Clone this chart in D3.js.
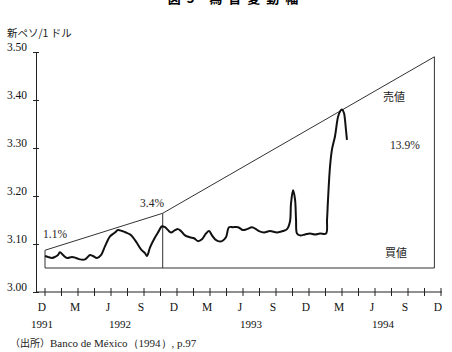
<!DOCTYPE html>
<html><head><meta charset="utf-8">
<script src="https://cdn.jsdelivr.net/npm/d3@7/dist/d3.min.js"></script>
<style>body{margin:0;background:#fff}svg{display:block}</style>
</head><body><svg id="c" width="452" height="352"></svg>
<script>
// month index: 0 = Dec 1991, 36 = Dec 1994
const tickMonths = d3.range(0, 36.01, 1.5);
const tickLabels = ["D","M","J","S","D","M","J","S","D","M","J","S","D"];
const yearLabels = ["1991","1992","1993","1994"];
const yearMonths = [0, 7.1, 19, 31];
const yTicks = [3.00, 3.10, 3.20, 3.30, 3.40, 3.50];

// spot rate (新ペソ/1ドル)
const rateMonths = [0,0.27,0.64,0.91,1.18,1.36,1.64,2.0,2.45,2.82,3.18,3.64,4.09,4.36,4.73,5.09,5.45,5.91,6.36,6.64,7.0,7.36,7.73,8.0,8.36,8.73,9.09,9.27,9.55,9.91,10.27,10.64,10.91,11.18,11.45,11.82,12.09,12.36,12.73,13.18,13.55,13.91,14.27,14.64,14.91,15.18,15.45,15.73,16.09,16.45,16.73,17.09,17.55,18.0,18.36,18.82,19.18,19.45,19.91,20.45,21.09,21.64,22.0,22.27,22.36,22.55,22.73,22.82,22.91,23.18,23.64,24.09,24.55,25.0,25.55,25.64,25.73,25.91,26.09,26.36,26.64,26.82,27.0,27.18,27.27,27.36,27.45];
const rateValues = [3.075,3.073,3.071,3.073,3.077,3.083,3.077,3.071,3.073,3.071,3.068,3.068,3.077,3.075,3.071,3.077,3.095,3.116,3.124,3.129,3.127,3.124,3.120,3.114,3.102,3.089,3.081,3.075,3.093,3.110,3.124,3.137,3.135,3.129,3.124,3.129,3.131,3.127,3.118,3.114,3.112,3.106,3.110,3.122,3.127,3.118,3.110,3.106,3.106,3.114,3.135,3.135,3.135,3.129,3.131,3.135,3.131,3.127,3.124,3.127,3.124,3.127,3.131,3.147,3.183,3.212,3.193,3.151,3.122,3.118,3.120,3.122,3.120,3.122,3.122,3.151,3.193,3.261,3.297,3.324,3.365,3.376,3.380,3.373,3.359,3.338,3.317];

// band: sell ceiling and buy floor
const ceilMonths = [0, 10.7, 35.4];
const ceilValues = [3.087, 3.164, 3.490];
const floorMonths = [0, 35.4];
const floorValues = [3.050, 3.050];

const svg = d3.select("#c");
const x = d3.scaleLinear().domain([0, 36]).range([45, 441]);
const y = d3.scaleLinear().domain([3.0, 3.5]).range([292, 52]);
const serif = "'Liberation Serif','DejaVu Serif',serif";
const jp = "'Noto Sans CJK JP',sans-serif";

// title (cut at top)
svg.append("text").attr("x", 236).attr("y", 3).attr("text-anchor", "middle")
  .attr("font-family", jp).attr("font-weight", "bold").attr("font-size", 13)
  .attr("letter-spacing", 6).text("図5 為替変動幅");

svg.append("text").attr("x", 7).attr("y", 37).attr("font-family", jp)
  .attr("font-size", 10.5).attr("fill", "#222").text("新ペソ/1 ドル");

// y axis
const yAxis = d3.axisLeft(y).tickValues(yTicks).tickFormat(d3.format(".2f")).tickSize(0).tickPadding(9);
const gy = svg.append("g").attr("transform", "translate(36,0)").call(yAxis);
gy.select(".domain").attr("stroke", "#222");
gy.selectAll(".tick text").attr("font-family", serif).attr("font-size", 11.5).attr("fill", "#111").attr("dy", "-0.1em");
gy.selectAll(".tick").append("line").attr("x1", -3).attr("x2", 3).attr("stroke", "#222");

// x axis
svg.append("line").attr("x1", 36).attr("x2", 442).attr("y1", y(3)).attr("y2", y(3)).attr("stroke", "#222");
svg.append("g").selectAll("line").data(tickMonths).join("line")
  .attr("x1", d => x(d)).attr("x2", d => x(d)).attr("y1", y(3) - 4).attr("y2", y(3) + 4).attr("stroke", "#222");
svg.append("g").selectAll("text").data(tickLabels).join("text")
  .attr("x", (d, i) => x(i * 3) - 3).attr("y", 311).attr("text-anchor", "middle")
  .attr("font-family", serif).attr("font-size", 11.5).attr("fill", "#111").text(d => d);
svg.append("g").selectAll("text").data(yearLabels).join("text")
  .attr("x", (d, i) => x(yearMonths[i]) - 3).attr("y", 328).attr("text-anchor", "middle")
  .attr("font-family", serif).attr("font-size", 11).attr("fill", "#111").text(d => d);

// band
const ceil = ceilMonths.map((m, i) => [m, ceilValues[i]]);
const floor = floorMonths.map((m, i) => [m, floorValues[i]]);
const ln = d3.line().x(d => x(d[0])).y(d => y(d[1]));
svg.append("path").attr("d", ln(ceil)).attr("fill", "none").attr("stroke", "#333").attr("stroke-width", 1);
svg.append("path").attr("d", ln(floor)).attr("fill", "none").attr("stroke", "#333").attr("stroke-width", 1.2);
[[0, 3.087], [10.7, 3.164], [35.4, 3.49]].forEach(([m, v]) => {
  svg.append("line").attr("x1", x(m)).attr("x2", x(m)).attr("y1", y(floorValues[0])).attr("y2", y(v))
    .attr("stroke", "#333").attr("stroke-width", 1);
});

// rate line
const rate = rateMonths.map((m, i) => [m, rateValues[i]]);
svg.append("path").attr("d", d3.line().curve(d3.curveCatmullRom.alpha(0.5)).x(d => x(d[0])).y(d => y(d[1]))(rate))
  .attr("fill", "none").attr("stroke", "#111").attr("stroke-width", 2).attr("stroke-linejoin", "round");

// annotations
const ann = [["1.1%", 43, 238, serif, 11.5], ["3.4%", 140, 207, serif, 11.5], ["売値", 383, 101, jp, 11], ["13.9%", 390, 149, serif, 11.5], ["買値", 385, 257, jp, 11]];
ann.forEach(a => svg.append("text").attr("x", a[1]).attr("y", a[2]).attr("font-family", a[3])
  .attr("font-size", a[4]).attr("fill", "#222").text(a[0]));

svg.append("text").attr("x", 10).attr("y", 347).attr("font-family", serif).attr("font-size", 11).attr("fill", "#222")
  .html("<tspan font-family=\"'Noto Sans CJK JP',sans-serif\" font-size='10'>（出所）</tspan>Banco de México（1994）, p.97");
</script></body></html>
